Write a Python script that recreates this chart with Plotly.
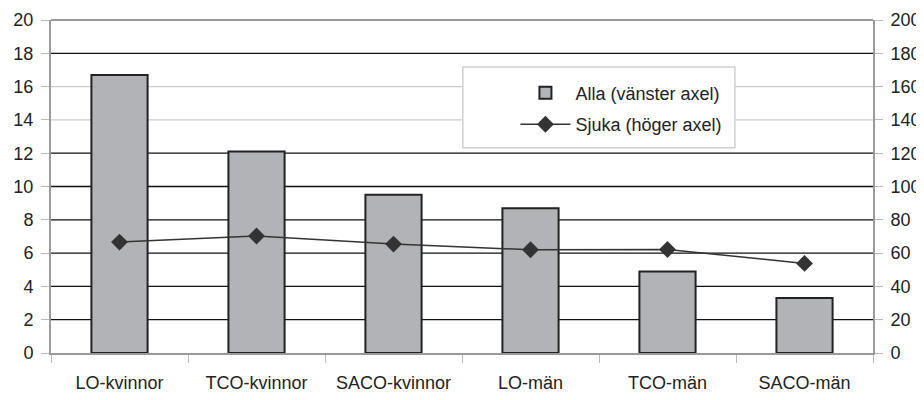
import plotly.graph_objects as go

categories = ["LO-kvinnor", "TCO-kvinnor", "SACO-kvinnor", "LO-män", "TCO-män", "SACO-män"]
alla = [16.7, 12.1, 9.5, 8.7, 4.9, 3.3]
sjuka = [66.6, 70.3, 65.4, 62.0, 62.2, 53.8]
left_ticks = list(range(0, 21, 2))
right_ticks = list(range(0, 201, 20))
grid_dark = [2, 4, 6, 8, 10, 12, 18]
grid_light = [14, 16]

FONT = "Liberation Sans, Arial, sans-serif"

fig = go.Figure()
fig.add_trace(go.Bar(
    x=categories, y=alla, name="Alla (vänster axel)", legendgroup="a",
    marker=dict(color="#b2b3b6", line=dict(color="#222222", width=2)),
    width=0.41, yaxis="y",
))
fig.add_trace(go.Scatter(
    x=categories, y=sjuka, name="Sjuka (höger axel)", legendgroup="b",
    mode="lines+markers",
    line=dict(color="#333333", width=1.5),
    marker=dict(symbol="diamond", size=13, color="#333333"),
    yaxis="y2",
))

shapes = []
for v in grid_dark:
    shapes.append(dict(type="line", xref="paper", yref="y", x0=0, x1=1, y0=v, y1=v,
                       line=dict(color="#111111", width=1.3), layer="below"))
for v in grid_light:
    shapes.append(dict(type="line", xref="paper", yref="y", x0=0, x1=1, y0=v, y1=v,
                       line=dict(color="#cccccc", width=1.3), layer="below"))
# top frame
shapes.append(dict(type="line", xref="paper", yref="paper", x0=0, x1=1, y0=1, y1=1,
                   line=dict(color="#9a9a9a", width=2), layer="below"))
# legend box
shapes.append(dict(type="rect", xref="paper", yref="paper", x0=0.501, x1=0.832,
                   y0=0.616, y1=0.859, fillcolor="white",
                   line=dict(color="#d0d0d0", width=1.5), layer="below"))

# page body has an 8px default margin; compensate so the plot area lands at 51..873 x 20..353
fig.update_layout(
    width=916, height=392,
    margin=dict(l=43, r=51, t=12, b=47, autoexpand=False),
    paper_bgcolor="white", plot_bgcolor="white",
    font=dict(family=FONT, size=18, color="#222222"),
    showlegend=True,
    bargap=0.59,
    shapes=shapes,
    xaxis=dict(
        type="category", tickson="boundaries", ticks="outside", ticklen=8,
        tickcolor="#bbbbbb", showline=True, linecolor="#9a9a9a", linewidth=2,
        showgrid=False, tickfont=dict(size=18), ticklabelstandoff=12,
        automargin=False,
    ),
    yaxis=dict(
        range=[0, 20], tickvals=left_ticks, ticks="outside", ticklen=8,
        tickcolor="#bbbbbb", showline=True, linecolor="#9a9a9a", linewidth=2,
        showgrid=False, zeroline=False, tickfont=dict(size=18), ticklabelstandoff=4,
        automargin=False,
    ),
    yaxis2=dict(
        range=[0, 200], tickvals=right_ticks, overlaying="y", side="right",
        ticks="outside", ticklen=8, tickcolor="#bbbbbb", showline=True,
        linecolor="#9a9a9a", linewidth=2, showgrid=False, zeroline=False,
        tickfont=dict(size=18), ticklabelstandoff=4, automargin=False,
    ),
    legend=dict(
        x=0.565, y=0.836, xanchor="left", yanchor="top",
        borderwidth=0, bgcolor="rgba(0,0,0,0)",
        font=dict(size=18), itemwidth=50, tracegroupgap=5,
    ),
)

fig.write_html("out.html")
